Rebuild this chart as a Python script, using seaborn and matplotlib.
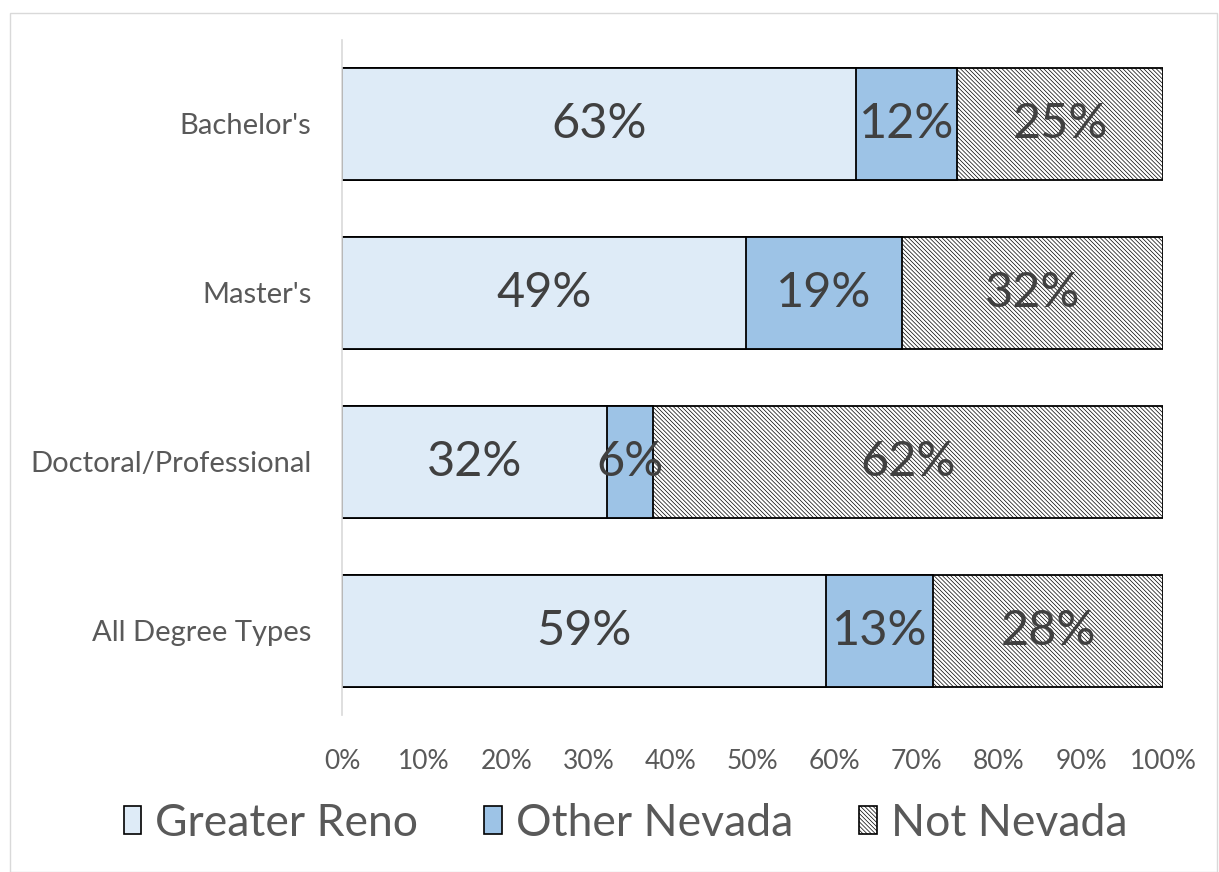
import matplotlib
matplotlib.use("Agg")
import matplotlib.pyplot as plt
import numpy as np
import pandas as pd
import seaborn as sns
from matplotlib.patches import Patch, Rectangle
from matplotlib.ticker import FuncFormatter

DEGREES = ["Bachelor's", "Master's", "Doctoral/Professional", "All Degree Types"]
SERIES = ["Greater Reno", "Other Nevada", "Not Nevada"]
GREATER_RENO = [62.6, 49.2, 32.3, 59.0]
OTHER_NEVADA = [12.3, 19.0, 5.6, 13.0]
NOT_NEVADA = [25.1, 31.8, 62.1, 28.0]

COLORS = ["#deebf7", "#9dc3e6", "white"]
HATCHES = ["", "", "\\" * 8]
TEXT = "#595959"

sns.set_theme(style="white")
plt.rcParams["font.family"] = ["Lato", "DejaVu Sans"]
plt.rcParams["hatch.color"] = "#555555"
plt.rcParams["hatch.linewidth"] = 0.5

df = pd.DataFrame(
    {"degree": DEGREES, SERIES[0]: GREATER_RENO, SERIES[1]: OTHER_NEVADA, SERIES[2]: NOT_NEVADA}
)
cum = df[SERIES].cumsum(axis=1)

fig = plt.figure(figsize=(12.19, 8.72), dpi=100)
ax = fig.add_axes([0.2806, 0.1795, 0.6735, 0.7752])

# draw the stacked bars back to front, each from zero
for name, color, hatch in reversed(list(zip(SERIES, COLORS, HATCHES))):
    sns.barplot(
        x=cum[name], y=df["degree"], orient="h", color=color, saturation=1,
        edgecolor="black", linewidth=1.3, width=0.665, errorbar=None,
        hatch=hatch, ax=ax,
    )

for i, row in df.iterrows():
    left = 0
    for name in SERIES:
        v = row[name]
        ax.text(left + v / 2, i, f"{v:.0f}%", ha="center", va="center",
                fontsize=35, color="#404040")
        left += v

ax.set_xlim(0, 100)
ax.set_ylim(3.5, -0.5)
ax.set_xticks(np.arange(0, 101, 10))
ax.xaxis.set_major_formatter(FuncFormatter(lambda x, _: f"{x:.0f}%"))
ax.set_xlabel("")
ax.set_ylabel("")
ax.tick_params(axis="x", length=0, pad=24, labelsize=19, labelcolor=TEXT)
ax.tick_params(axis="y", length=0, pad=22, labelsize=21, labelcolor=TEXT)
for s in ["top", "right", "bottom"]:
    ax.spines[s].set_visible(False)
ax.spines["left"].set_color("#d9d9d9")
ax.spines["left"].set_linewidth(1.2)

handles = [
    Patch(facecolor=c, edgecolor="black", hatch=h, linewidth=1.2, label=n)
    for n, c, h in zip(SERIES, COLORS, HATCHES)
]
fig.legend(
    handles=handles, loc="center", bbox_to_anchor=(0.513, 0.056), ncol=3,
    frameon=False, fontsize=32, handlelength=0.4, handleheight=0.6,
    handletextpad=0.3, columnspacing=1.5, labelcolor=TEXT,
)

fig.patches.append(Rectangle((0.008, 0.0), 0.99, 0.985, transform=fig.transFigure,
                             fill=False, edgecolor="#d9d9d9", linewidth=1))

fig.savefig("out.png", dpi=100)
